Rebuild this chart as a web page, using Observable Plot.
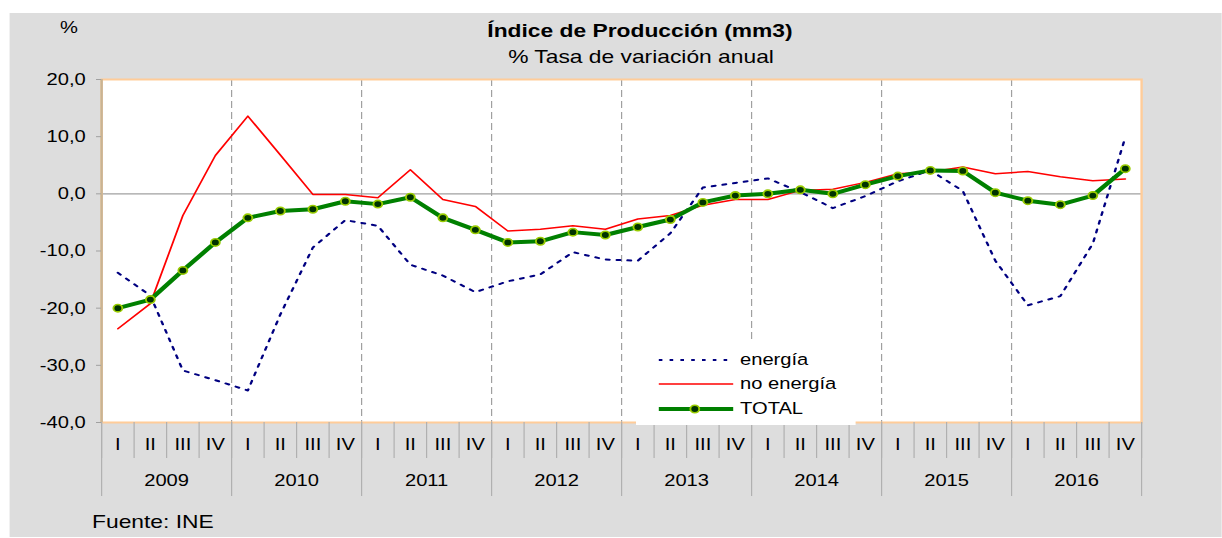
<!DOCTYPE html>
<html>
<head>
<meta charset="utf-8">
<script src="https://cdn.jsdelivr.net/npm/d3@7"></script>
<script src="https://cdn.jsdelivr.net/npm/@observablehq/plot@0.6"></script>
<style>
  html, body { margin: 0; padding: 0; background: #ffffff; overflow: hidden; }
  #wrap { position: absolute; left: 0; top: 0; width: 1018.33px; height: 538px;
          transform: scaleX(1.2); transform-origin: 0 0;
          font-family: "Liberation Sans", Arial, sans-serif; color: #000; }
  #bg { position: absolute; left: 7.5px; top: 13px; width: 1010.83px; height: 524px; background: #dddddd; }
  #chart { position: absolute; left: 0; top: 0; }
  .abs { position: absolute; white-space: nowrap; }
  #title { left: 533.3px; top: 21px; transform: translateX(-50%); font-size: 19px; font-weight: bold; line-height: 20px; }
  #subtitle { left: 534.2px; top: 47px; transform: translateX(-50%); font-size: 19px; line-height: 20px; }
  #unit { left: 57.5px; top: 18px; transform: translateX(-50%); font-size: 16.8px; line-height: 20px; }
  #source { left: 76.7px; top: 512px; font-size: 19px; line-height: 20px; }
  #legend { left: 530px; top: 343px; width: 183.3px; height: 82px; background: #ffffff; }
  .lrow { position: absolute; left: 0; height: 20px; }
  .lrow svg { position: absolute; left: 18px; top: 0; }
  .lrow span { position: absolute; left: 86.7px; top: 0; font-size: 16.8px; line-height: 20px; }
</style>
</head>
<body>
<div id="wrap">
  <div id="bg"></div>
  <div id="chart"></div>
  <div id="unit" class="abs">%</div>
  <div id="title" class="abs">Índice de Producción (mm3)</div>
  <div id="subtitle" class="abs">% Tasa de variación anual</div>
  <div id="source" class="abs">Fuente: INE</div>
  <div id="legend" class="abs"></div>
</div>
<script>
const quarters = ["I", "II", "III", "IV"];
const years = [2009, 2010, 2011, 2012, 2013, 2014, 2015, 2016];
const yTicks = [-40, -30, -20, -10, 0, 10, 20];
const seriesNames = ["energía", "no energía", "TOTAL"];

const energia = [-13.8, -17.8, -30.9, -32.6, -34.4, -21.1, -9.4, -4.6,
                 -5.6, -12.4, -14.3, -17.2, -15.3, -14.1, -10.2, -11.5,
                 -11.7, -6.9, 1.1, 1.9, 2.7, 0.3, -2.5, -0.4,
                 2.2, 4.1, 0.5, -11.7, -19.5, -17.9, -8.7, 9.9];
const noEnergia = [-23.6, -19.2, -3.8, 6.7, 13.6, 6.8, -0.1, -0.1,
                   -0.7, 4.2, -1.0, -2.2, -6.5, -6.2, -5.6, -6.2,
                   -4.4, -3.8, -2.0, -1.0, -1.0, 0.6, 0.8, 2.0,
                   3.5, 3.8, 4.7, 3.5, 3.9, 3.0, 2.3, 2.6];
const total = [-20.0, -18.5, -13.4, -8.5, -4.2, -3.0, -2.7, -1.3,
               -1.8, -0.6, -4.2, -6.3, -8.5, -8.3, -6.7, -7.2,
               -5.8, -4.5, -1.5, -0.3, 0.0, 0.7, 0.0, 1.6,
               3.1, 4.1, 4.0, 0.2, -1.2, -1.9, -0.3, 4.4];

const nQ = years.length * quarters.length;
const rows = d3.range(nQ).map(i => ({
  x: i + 0.5,
  energia: energia[i],
  noEnergia: noEnergia[i],
  total: total[i]
}));
const quarterCenters = d3.range(nQ).map(i => i + 0.5);
const quarterBounds = d3.range(nQ + 1);
const yearBounds = d3.range(years.length + 1).map(k => k * 4);
const innerYearBounds = yearBounds.slice(1, -1);
const yearCenters = years.map((y, k) => k * 4 + 2);

const fmt = d => d.toFixed(1).replace(".", ",");

const plot = Plot.plot({
  width: 1018.33,
  height: 538,
  marginLeft: 84.17,
  marginRight: 67.5,
  marginTop: 79,
  marginBottom: 116,
  x: {domain: [0, nQ], axis: null},
  y: {domain: [-40, 20], axis: null},
  style: {background: "transparent", fontFamily: "'Liberation Sans', Arial, sans-serif", color: "#000", overflow: "visible"},
  marks: [
    Plot.frame({fill: "#ffffff"}),
    Plot.ruleX(innerYearBounds, {stroke: "#a0a0a0", strokeWidth: 1, strokeDasharray: "7 4"}),
    Plot.ruleY([0], {stroke: "#a0a0a0", strokeWidth: 1.2}),
    Plot.frame({stroke: "#ffcc99", strokeWidth: 2}),
    Plot.ruleX([0], {stroke: "#c9b493", strokeWidth: 2}),
    Plot.line(rows, {x: "x", y: "energia", stroke: "#000080", strokeWidth: 2, strokeDasharray: "3 6"}),
    Plot.line(rows, {x: "x", y: "noEnergia", stroke: "#ff0000", strokeWidth: 1.5}),
    Plot.line(rows, {x: "x", y: "total", stroke: "#008000", strokeWidth: 4}),
    Plot.dot(rows, {x: "x", y: "total", r: 3.7, fill: "#003300", stroke: "#99cc00", strokeWidth: 1.6}),
    Plot.axisY({ticks: yTicks, tickFormat: fmt, tickSize: 4.2, tickPadding: 9, stroke: "#a0a0a0", fill: "#000", fontSize: 16.8, label: null}),
    Plot.axisX({ticks: quarterBounds, tickFormat: () => "", tickSize: 36, stroke: "#b0b0b0", label: null}),
    Plot.axisX({ticks: yearBounds, tickFormat: () => "", tickSize: 74, stroke: "#b0b0b0", label: null}),
    Plot.axisX({ticks: quarterCenters, tickFormat: d => quarters[Math.floor(d) % 4], tickSize: 0, tickPadding: 16, fill: "#000", fontSize: 16.8, label: null}),
    Plot.axisX({ticks: yearCenters, tickFormat: d => String(years[(d - 2) / 4]), tickSize: 0, tickPadding: 52, fill: "#000", fontSize: 16.8, label: null})
  ]
});
document.getElementById("chart").appendChild(plot);

// Legend (overlay box inside plot area)
const legend = document.getElementById("legend");
const rowTops = [7, 31, 56];
const samples = [
  '<line x1="1" y1="10" x2="63" y2="10" stroke="#000080" stroke-width="2" stroke-dasharray="3 6"/>',
  '<line x1="1" y1="10" x2="63" y2="10" stroke="#ff0000" stroke-width="1.5"/>',
  '<line x1="1" y1="10" x2="63" y2="10" stroke="#008000" stroke-width="4"/><circle cx="31" cy="10" r="3.7" fill="#003300" stroke="#99cc00" stroke-width="1.6"/>'
];
seriesNames.forEach((name, k) => {
  const r = document.createElement("div");
  r.className = "lrow";
  r.style.top = rowTops[k] + "px";
  r.innerHTML = '<svg width="64" height="20">' + samples[k] + '</svg><span>' + name + '</span>';
  legend.appendChild(r);
});
</script>
</body>
</html>
